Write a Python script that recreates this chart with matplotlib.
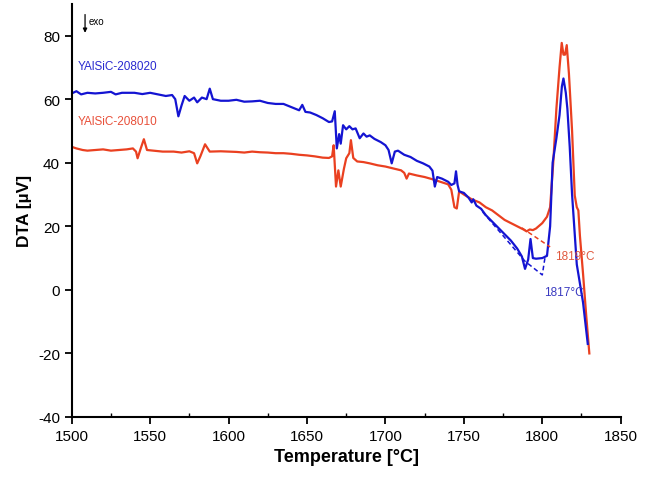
import matplotlib
matplotlib.use('Agg')
import matplotlib.pyplot as plt
from matplotlib.ticker import MultipleLocator

plt.rcParams['font.family'] = ['Liberation Sans', 'DejaVu Sans']
plt.rcParams['axes.unicode_minus'] = False

# YAlSiC-208020 (blue)
t_blue = [1500, 1503, 1506, 1510, 1515, 1520, 1525, 1528, 1532, 1540, 1545, 1550, 1555, 1560,
          1564, 1566, 1568, 1570, 1572, 1575, 1578, 1580, 1583, 1586, 1588, 1590, 1595, 1600,
          1605, 1610, 1615, 1620, 1625, 1630, 1635, 1640, 1645, 1647, 1649, 1652, 1656, 1660,
          1664, 1666, 1667.7, 1669, 1670.5, 1671.5, 1673, 1675, 1677, 1679, 1681, 1683.6, 1686,
          1688, 1690, 1693, 1697, 1700, 1702, 1704, 1706, 1708, 1712, 1716, 1720, 1724, 1728,
          1730, 1731.5, 1733, 1736, 1740, 1742, 1744, 1745, 1746, 1747, 1750, 1753, 1755, 1756,
          1758, 1761, 1764, 1768, 1772, 1776, 1780, 1784, 1787, 1789, 1791, 1792.5, 1794, 1796,
          1800, 1803, 1805, 1806.6, 1809, 1811, 1812.5, 1813.5, 1815, 1816, 1817.5, 1819, 1822,
          1826, 1829]
v_blue = [61.8, 62.5, 61.5, 62, 61.8, 62, 62.3, 61.5, 62, 62, 61.6, 62, 61.5, 61,
          61.3, 60, 54.6, 58, 61, 59.5, 60.5, 59, 60.5, 60, 63.3, 60, 59.5, 59.5,
          59.8, 59.2, 59.3, 59.5, 58.8, 58.5, 58.5, 57.5, 56.5, 58.2, 56, 55.8, 55, 54,
          52.8, 53, 56.2, 44.5, 49, 46, 51.8, 50.5, 51.5, 50.5, 50.8, 47.7, 49.2,
          48.2, 48.6, 47.5, 46.5, 45.5, 44, 39.8, 43.5, 43.8, 42.5, 41.8, 40.6, 39.8, 38.8,
          37.5, 32.5, 35.5, 35, 34, 33, 33.5, 37.3, 33, 31, 30.5, 29, 27.5, 28.5,
          26.5, 25.5, 23.5, 21.5, 19.5, 17.5, 15.5, 13, 10.5, 6.6, 9.5, 16, 10, 9.8,
          10, 10.7, 20, 40, 47.7, 55, 64, 66.5, 62, 57, 45, 30, 8,
          -4, -17]

# YAlSiC-208010 (red)
t_red = [1500, 1503, 1507, 1510, 1515, 1520, 1525, 1530, 1535, 1539, 1541, 1542, 1544, 1546,
         1548, 1552, 1558, 1565, 1570, 1575, 1578, 1580, 1582, 1585, 1588, 1595, 1600, 1605,
         1610, 1615, 1620, 1625, 1630, 1635, 1640, 1645, 1650, 1655, 1660, 1664, 1666, 1667,
         1668.5, 1670, 1671.5, 1673.5, 1675, 1677, 1678, 1679.5, 1682, 1686, 1690, 1695, 1700,
         1705, 1710, 1712, 1713.5, 1715, 1720, 1725, 1730, 1735, 1740, 1742, 1744, 1745.5, 1747,
         1750, 1755, 1760, 1764, 1768, 1772, 1776, 1780, 1784, 1788, 1790, 1792, 1794, 1796,
         1800, 1803, 1805, 1807, 1809, 1811, 1812.4, 1813.5, 1814.5, 1815.6, 1817, 1819, 1820.7,
         1822, 1823, 1824, 1826, 1828, 1830]
v_red = [45, 44.5, 44, 43.8, 44, 44.2, 43.8, 44, 44.2, 44.5, 43.5, 41.4, 44.5, 47.4,
         44, 43.8, 43.5, 43.5, 43.2, 43.6, 43, 39.8, 42, 45.8, 43.5, 43.6, 43.5, 43.4,
         43.2, 43.5, 43.3, 43.2, 43, 43, 42.8, 42.5, 42.3, 42, 41.6, 41.5, 42, 45.5,
         32.5, 37.6, 32.5, 38, 41.4, 43, 47.1, 41.5, 40.4, 40.2, 39.8, 39.2, 38.8,
         38.2, 37.6, 36.8, 35, 36.6, 36, 35.5, 34.8, 34, 33.2, 31.5, 26, 25.6, 31,
         30, 28.5, 27.5, 26, 25, 23.5, 22, 21, 20, 19, 18.4, 19, 18.8, 19.3,
         21, 23, 26, 40, 57, 70, 77.7, 74, 74, 77, 68, 50, 29.7,
         26, 25, 17, 5, -8, -20]

# onset construction lines
t_base_red = [1787, 1805]
v_base_red = [19.5, 13.5]
t_base_blue = [1762, 1789, 1800, 1802]
v_base_blue = [24.5, 9, 4.7, 11]

blue = '#1414d2'
red = '#ea4020'

fig = plt.figure(figsize=(6.52, 4.81), dpi=100)
ax = fig.add_axes([0.110, 0.131, 0.842, 0.859])

ax.plot(t_red, v_red, color=red, lw=1.6)
ax.plot(t_blue, v_blue, color=blue, lw=1.6)
ax.plot(t_base_red, v_base_red, color=red, lw=1.1, ls=(0, (3, 2)))
ax.plot(t_base_blue, v_base_blue, color=blue, lw=1.1, ls=(0, (3, 2)))

ax.text(1504, 70.5, 'YAlSiC-208020', color='#2a2ad0', fontsize=8.5, va='center')
ax.text(1504, 53, 'YAlSiC-208010', color='#e8503a', fontsize=8.5, va='center')
ax.text(1808, 10.5, '1819°C', color='#e0583e', fontsize=8.5, va='center')
ax.text(1801, -0.8, '1817°C', color='#3a3ac0', fontsize=8.5, va='center')
ax.annotate('', xy=(1508.5, 80), xytext=(1508.5, 87.5),
            arrowprops=dict(arrowstyle='-|>', color='black', lw=0.9, mutation_scale=6))
ax.text(1511, 84.5, 'exo', fontsize=7, va='center')

ax.set_xlim(1500, 1850)
ax.set_ylim(-40, 90)
ax.set_yticks([-40, -20, 0, 20, 40, 60, 80])
ax.xaxis.set_major_locator(MultipleLocator(50))
ax.xaxis.set_minor_locator(MultipleLocator(25))

for s in ['top', 'right']:
    ax.spines[s].set_visible(False)
for s in ['left', 'bottom']:
    ax.spines[s].set_linewidth(1.5)

ax.tick_params(axis='both', which='major', length=5, width=1.3, labelsize=11)
ax.tick_params(axis='x', which='minor', length=3, width=1.0, direction='in')

ax.set_xlabel('Temperature [°C]', fontsize=13, fontweight='bold',
              family=['Liberation Sans Narrow', 'Liberation Sans'])
ax.set_ylabel('DTA [µV]', fontsize=12.5, fontweight='bold',
              family=['Liberation Sans Narrow', 'Liberation Sans'])

fig.savefig('out.png', dpi=100)
